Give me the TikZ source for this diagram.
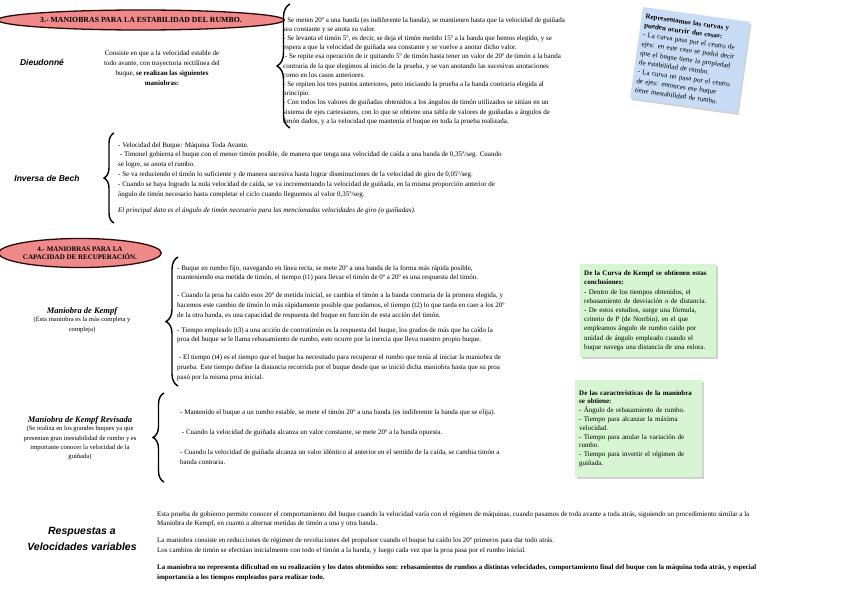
\documentclass[tikz,border=0pt]{standalone}
\usepackage{fontspec}
\setmainfont{Liberation Serif}
\newfontfamily\hsans{Liberation Sans}
\usetikzlibrary{shapes.geometric,decorations.pathreplacing,shadows}
\definecolor{hdrfill}{HTML}{F08A8A}
\definecolor{hdrline}{HTML}{2A0A0A}
\definecolor{bluenote}{HTML}{C9DCF5}
\definecolor{greennote}{HTML}{D8F5D3}
\begin{document}
\begin{tikzpicture}[x=1pt,y=-1pt,
  body/.style={font=\fontsize{7}{9.8}\selectfont, align=left, inner sep=0pt, anchor=north west},
  bodyc/.style={font=\fontsize{7}{9.8}\selectfont, align=center, inner sep=0pt},
  hdr/.style={ellipse, draw=hdrline, line width=1.3pt, fill=hdrfill, align=center, inner sep=0.5pt},
  ttl/.style={font=\hsans\fontsize{8.5}{10}\selectfont\bfseries\itshape, inner sep=0pt},
  ttlserif/.style={font=\fontsize{8.5}{10}\selectfont\bfseries\itshape, inner sep=0pt},
  brc/.style={decorate, decoration={brace, amplitude=#1}, line width=1.4pt},
  notebox/.style={draw=none, inner xsep=4pt, inner ysep=5pt, align=left, anchor=north west,
    font=\fontsize{7}{9.2}\selectfont,
    drop shadow={shadow xshift=1.5pt, shadow yshift=-2pt, opacity=0.35}}
]
\useasboundingbox[fill=white] (0,0) rectangle (848,599);

% ---------- Section 3 ----------
\node[hdr, minimum width=232, minimum height=20, font=\fontsize{7.8}{9}\selectfont\bfseries] (h3) at (141,20)
  {3.- MANIOBRAS PARA LA ESTABILIDAD DEL RUMBO.};

\node[ttl] (dieu) at (42,62) {Dieudonné};
\node[bodyc] (dieudesc) at (162,68) {Consiste en que a la velocidad estable de\\
todo avante, con trayectoria rectilínea del\\
buque, \textbf{se realizan las siguientes}\\
\textbf{maniobras:}};

\coordinate (b1s) at (290,128);
\coordinate (b1e) at (290,4);
\draw[brc=13pt] (b1s) -- (b1e);

\node[body, font=\fontsize{7}{9.2}\selectfont] (dieutext) at (283,17) {- Se meten 20º a una banda (es indiferente la banda), se mantienen hasta que la velocidad de guiñada\\
sea constante y se anota su valor.\\
- Se levanta el timón 5º, es decir, se deja el timón metido 15º a la banda que hemos elegido, y se\\
espera a que la velocidad de guiñada sea constante y se vuelve a anotar dicho valor.\\
\ - Se repite esa operación de ir quitando 5º de timón hasta tener un valor de 20º de timón a la banda\\
contraria de la que elegimos al inicio de la prueba, y se van anotando las sucesivas anotaciones\\
como en los casos anteriores.\\
- Se repiten los tres puntos anteriores, pero iniciando la prueba a la banda contraria elegida al\\
principio.\\
- Con todos los valores de guiñadas obtenidos a los ángulos de timón utilizados se sitúan en un\\
sistema de ejes cartesianos, con lo que se obtiene una tabla de valores de guiñadas a ángulos de\\
timón dados, y a la velocidad que mantenía el buque en toda la prueba realizada.};

\node[notebox, fill=bluenote, anchor=center, rotate=-8, text width=100, minimum height=92,
  font=\fontsize{7}{9.3}\selectfont] (bluen) at (690,60)
{\textbf{Representamos las curvas y}\\
\textbf{pueden ocurrir dos cosas:}\\
- La curva pasa por el centro de\\
ejes: en este caso se podrá decir\\
que el buque tiene la propiedad\\
de estabilidad de rumbo.\\
- La curva no pasa por el centro\\
de ejes: entonces ese buque\\
tiene inestabilidad de rumbo.};

% ---------- Inversa de Bech ----------
\node[ttl] (bech) at (47,178) {Inversa de Bech};
\coordinate (b2s) at (114,223);
\coordinate (b2e) at (114,133);
\draw[brc=10pt] (b2s) -- (b2e);
\node[body] (bechtext) at (118,142) {- Velocidad del Buque: Máquina Toda Avante.\\
\ - Timonel gobierna el buque con el menor timón posible, de manera que tenga una velocidad de caída a una banda de 0,35º/seg. Cuando\\
se logre, se anota el rumbo.\\
- Se va reduciendo el timón lo suficiente y de manera sucesiva hasta lograr disminuciones de la velocidad de giro de 0,05º/seg.\\
- Cuando se haya logrado la nula velocidad de caída, se va incrementando la velocidad de guiñada, en la misma proporción anterior de\\
ángulo de timón necesario hasta completar el ciclo cuando lleguemos al valor 0,35º/seg.\\[7pt]
\textit{El principal dato es el ángulo de timón necesario para las mencionadas velocidades de giro (o guiñadas).}};

% ---------- Section 4 ----------
\node[hdr, minimum width=146, minimum height=29, font=\fontsize{7}{8.4}\selectfont\bfseries] (h4) at (80,253)
  {4.- MANIOBRAS PARA LA\\CAPACIDAD DE RECUPERACIÓN.};

\node[ttlserif] (kempf) at (82,311) {Maniobra de Kempf};
\node[bodyc, font=\fontsize{6.6}{9.4}\selectfont, anchor=north] (kempfsub) at (82,317) {(Esta maniobra es la más completa y\\compleja)};

\coordinate (b3s) at (178,386);
\coordinate (b3e) at (178,257);
\draw[brc=12pt] (b3s) -- (b3e);
\node[body] (kempftext) at (177,265) {- Buque en rumbo fijo, navegando en línea recta, se mete 20º a una banda de la forma más rápida posible,\\
manteniendo esa metida de timón, el tiempo (t1) para llevar el timón de 0º a 20º es una respuesta del timón.\\[8pt]
- Cuando la proa ha caído esos 20º de metida inicial, se cambia el timón a la banda contraria de la primera elegida, y\\
hacemos este cambio de timón lo más rápidamente posible que podamos, el tiempo (t2) lo que tarda en caer a los 20º\\
de la otra banda, es una capacidad de respuesta del buque en función de esta acción del timón.\\[5pt]
- Tiempo empleado (t3) a una acción de contratimón es la respuesta del buque, los grados de más que ha caído la\\
proa del buque se le llama rebasamiento de rumbo, esto ocurre por la inercia que lleva nuestro propio buque.\\[8pt]
\ - El tiempo (t4) es el tiempo que el buque ha necesitado para recuperar el rumbo que tenía al iniciar la maniobra de\\
prueba. Este tiempo define la distancia recorrida por el buque desde que se inició dicha maniobra hasta que su proa\\
pasó por la misma proa inicial.};

\node[notebox, fill=greennote, text width=128, minimum height=93] (green1) at (580,264)
{\textbf{De la Curva de Kempf se obtienen estas}\\
\textbf{conclusiones:}\\
- Dentro de los tiempos obtenidos, el\\
rebasamiento de desviación o de distancia.\\
- De estos estudios, surge una fórmula,\\
criterio de P (de Norrbin), en el que\\
empleamos ángulo de rumbo caído por\\
unidad de ángulo empleado cuando el\\
buque navega una distancia de una eslora.};

% ---------- Kempf revisada ----------
\node[ttlserif] (kempfr) at (80,420) {Maniobra de Kempf Revisada};
\node[bodyc, font=\fontsize{6.6}{9.4}\selectfont, anchor=north] (kempfrsub) at (80,426) {(Se realiza en los grandes buques ya que\\
presentan gran inestabilidad de rumbo y es\\
importante conocer la velocidad de la\\
guiñada)};

\coordinate (b4s) at (164,482);
\coordinate (b4e) at (164,393);
\draw[brc=11pt] (b4s) -- (b4e);
\node[body] (kempfrtext) at (180,409) {- Mantenido el buque a un rumbo estable, se mete el timón 20º a una banda (es indiferente la banda que se elija).\\[11pt]
\ - Cuando la velocidad de guiñada alcanza un valor constante, se mete 20º a la banda opuesta.\\[10pt]
- Cuando la velocidad de guiñada alcanza un valor idéntico al anterior en el sentido de la caída, se cambia timón a\\
banda contraria.};

\node[notebox, fill=greennote, text width=119, minimum height=97, font=\fontsize{7}{8.8}\selectfont] (green2) at (575,380)
{\textbf{De las características de la maniobra}\\
\textbf{se obtiene:}\\
- Ángulo de rebasamiento de rumbo.\\
- Tiempo para alcanzar la máxima\\
velocidad.\\
- Tiempo para anular la variación de\\
rumbo.\\
- Tiempo para invertir el régimen de\\
guiñada.};

% ---------- Respuestas ----------
\node[ttl, font=\hsans\fontsize{10.5}{16}\selectfont\bfseries\itshape, align=center] (resp) at (82,539)
  {Respuestas a\\Velocidades variables};
\node[body] (resptext) at (157,511) {Esta prueba de gobierno permite conocer el comportamiento del buque cuando la velocidad varía con el régimen de máquinas, cuando pasamos de toda avante a toda atrás, siguiendo un procedimiento similar a la\\
Maniobra de Kempf, en cuanto a alternar metidas de timón a una y otra banda.\\[7pt]
La maniobra consiste en reducciones de régimen de revoluciones del propulsor cuando el buque ha caído los 20º primeros para dar todo atrás.\\
Los cambios de timón se efectúan inicialmente con todo el timón a la banda, y luego cada vez que la proa pasa por el rumbo inicial.\\[7pt]
\textbf{La maniobra no representa dificultad en su realización y los datos obtenidos son: rebasamientos de rumbos a distintas velocidades, comportamiento final del buque con la máquina toda atrás, y especial}\\
\textbf{importancia a los tiempos empleados para realizar todo.}};

\end{tikzpicture}
\end{document}
